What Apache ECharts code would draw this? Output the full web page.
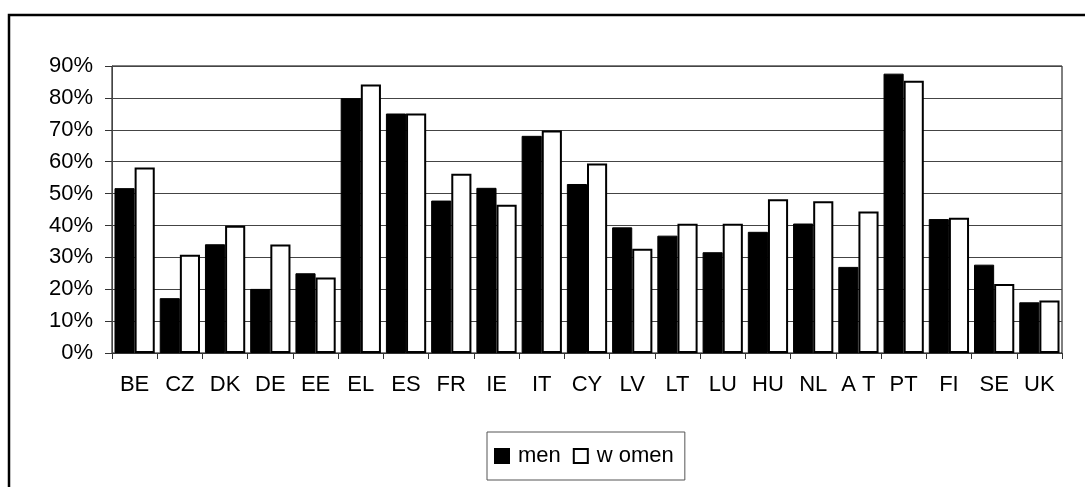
<!DOCTYPE html>
<html>
<head>
<meta charset="utf-8">
<script src="https://cdn.jsdelivr.net/npm/echarts@6/dist/echarts.min.js"></script>
<style>
html,body{margin:0;padding:0;background:#fff;}
#chart{width:1085px;height:487px;}
</style>
</head>
<body>
<div id="chart"></div>
<script>
const categories = ['BE','CZ','DK','DE','EE','EL','ES','FR','IE','IT','CY','LV','LT','LU','HU','NL','A T','PT','FI','SE','UK'];
const menValues   = [51.7,17.2,34.1,20.1,25.0,79.9,75.1,47.8,51.8,68.1,53.0,39.4,36.8,31.6,38.0,40.6,27.0,87.6,42.0,27.7,15.9];
const womenValues = [58.2,30.8,39.9,34.0,23.7,84.2,75.1,56.2,46.5,69.8,59.4,32.7,40.5,40.5,48.2,47.6,44.4,85.4,42.4,21.6,16.5];
const yTicks = [0,10,20,30,40,50,60,70,80,90];
const seriesNames = ['men','w omen'];

const FONT = '"Liberation Sans", Arial, sans-serif';
const chart = echarts.init(document.getElementById('chart'), null, {renderer:'canvas'});
chart.setOption({
  animation:false,
  backgroundColor:'#fff',
  textStyle:{fontFamily:FONT},
  graphic:[{
    type:'rect', silent:true, z:-1,
    shape:{x:9, y:15, width:1200, height:600},
    style:{fill:'none', stroke:'#000', lineWidth:2.5}
  }],
  grid:{left:112, right:23, top:66, bottom:134, show:true, borderColor:'#000', borderWidth:1, backgroundColor:'transparent'},
  legend:{
    data:seriesNames,
    left:487, top:432,
    orient:'horizontal',
    borderColor:'#555', borderWidth:1,
    padding:[13,11,13,7],
    itemGap:12,
    itemWidth:14, itemHeight:14,
    icon:'rect',
    textStyle:{fontFamily:FONT, fontSize:22, color:'#000', padding:[0,0,0,4]}
  },
  xAxis:{
    type:'category',
    data:categories,
    axisLine:{show:true, lineStyle:{color:'#333', width:1}},
    axisTick:{show:true, length:6, alignWithLabel:false, lineStyle:{color:'#333'}},
    axisLabel:{fontFamily:FONT, fontSize:22, color:'#000', margin:21, interval:0}
  },
  yAxis:{
    type:'value',
    min:0, max:90, interval:10,
    axisLine:{show:true, lineStyle:{color:'#444', width:1}},
    axisTick:{show:true, length:7, lineStyle:{color:'#333'}},
    axisLabel:{fontFamily:FONT, fontSize:22, color:'#000', margin:19,
      formatter:function(v){ return yTicks.indexOf(v) >= 0 ? v + '%' : ''; }},
    splitLine:{show:true, lineStyle:{color:'#444', width:1}}
  },
  series:[
    {name:seriesNames[0], type:'bar', data:menValues, barGap:'0%', barCategoryGap:'11%',
      itemStyle:{color:'#000', borderColor:'#000', borderWidth:1}},
    {name:seriesNames[1], type:'bar', data:womenValues, barGap:'0%', barCategoryGap:'11%',
      itemStyle:{color:'#fff', borderColor:'#000', borderWidth:2}}
  ]
});
</script>
</body>
</html>
